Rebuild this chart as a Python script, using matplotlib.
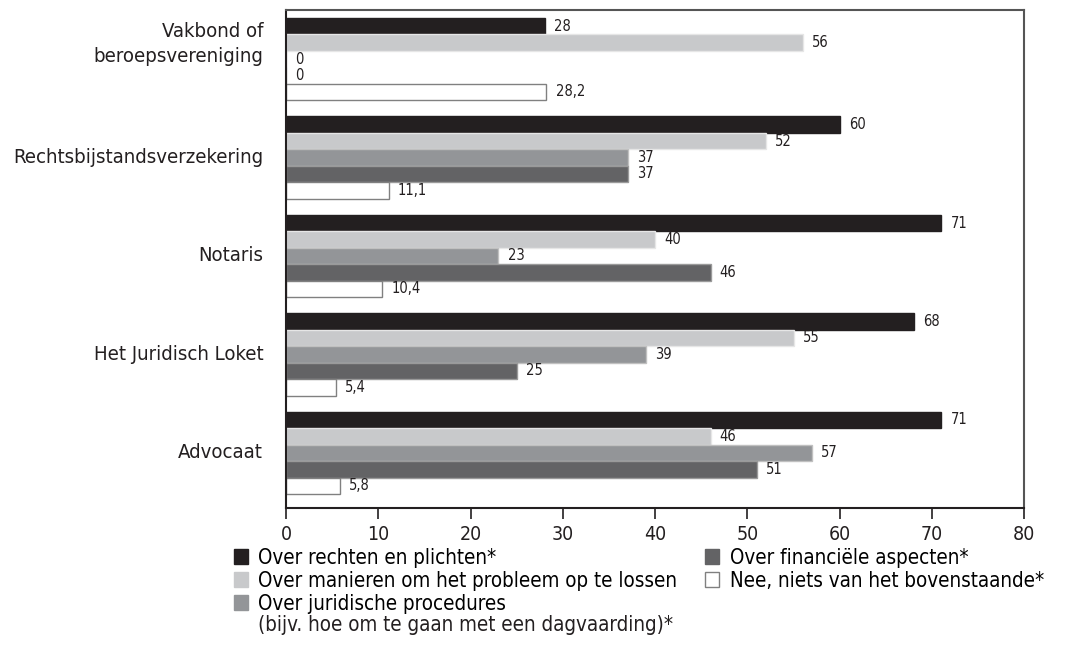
import numpy as np
import matplotlib.pyplot as plt
from matplotlib.patches import Patch

plt.rcParams['font.family'] = ['DejaVu Sans']
plt.rcParams['font.stretch'] = 'condensed'

categories = ['Vakbond of\nberoepsvereniging', 'Rechtsbijstandsverzekering', 'Notaris',
              'Het Juridisch Loket', 'Advocaat']
series = ['Over rechten en plichten*',
          'Over manieren om het probleem op te lossen',
          'Over juridische procedures',
          'Over financiële aspecten*',
          'Nee, niets van het bovenstaande*']
series_extra = '(bijv. hoe om te gaan met een dagvaarding)*'
rechten = [28, 60, 71, 68, 71]
manieren = [56, 52, 40, 55, 46]
procedures = [0, 37, 23, 39, 57]
financieel = [0, 37, 46, 25, 51]
niets = [28.2, 11.1, 10.4, 5.4, 5.8]
values = [rechten, manieren, procedures, financieel, niets]
labels_fmt = ['{:.0f}', '{:.0f}', '{:.0f}', '{:.0f}', '{:.1f}']

colors = ['#231f20', '#c8c9cb', '#939598', '#636365', 'white']
edges = ['#231f20', '#e6e6e6', '#c0c0c0', '#9a9a9a', '#808080']

fig = plt.figure(figsize=(10.68, 6.58), dpi=100)
ax = fig.add_axes([0.268, 0.228, 0.691, 0.757])

h = 0.167
y = np.arange(len(categories))
for i, vals in enumerate(values):
    pos = y + (i - 2) * h
    ax.barh(pos, vals, height=h, color=colors[i], edgecolor=edges[i], linewidth=1)
    for p, v in zip(pos, vals):
        txt = labels_fmt[i].format(v).replace('.', ',')
        ax.text(v + 1.0, p, txt, va='center', ha='left', fontsize=10.5, color='#231f20')

ax.set_xlim(0, 80)
ax.set_ylim(4.56, -0.5)
ax.set_xticks(range(0, 81, 10))
ax.tick_params(axis='x', direction='out', length=8, width=1.2, labelsize=14, pad=4,
               colors='#231f20')
ax.set_yticks([])
for s in ax.spines.values():
    s.set_color('#555555')
    s.set_linewidth(1.5)
ax.spines['left'].set_color('#231f20')
ax.spines['bottom'].set_color('#231f20')

for i, c in enumerate(categories):
    off = -0.15 if '\n' in c else 0
    ax.text(-2.5, i + off, c, ha='right', va='center', fontsize=14.6, color='#231f20',
            linespacing=1.4)

handles = [Patch(facecolor=colors[i], edgecolor=edges[i] if i == 4 else colors[i])
           for i in range(5)]
leg = fig.legend(handles, series, ncol=2, loc='upper left', bbox_to_anchor=(0.211, 0.18),
                 frameon=False, fontsize=14.8, handlelength=0.7, handleheight=0.7,
                 handletextpad=0.5, columnspacing=1.35, labelspacing=0.14, borderaxespad=0)

# second line of the third legend entry, left aligned under its text
fig.canvas.draw()
bb = leg.get_texts()[2].get_window_extent().transformed(fig.transFigure.inverted())
fig.text(bb.x0, bb.y0 - 0.002, series_extra, ha='left', va='top', fontsize=14.8,
         color='#231f20')

fig.savefig('out.png', dpi=100)
